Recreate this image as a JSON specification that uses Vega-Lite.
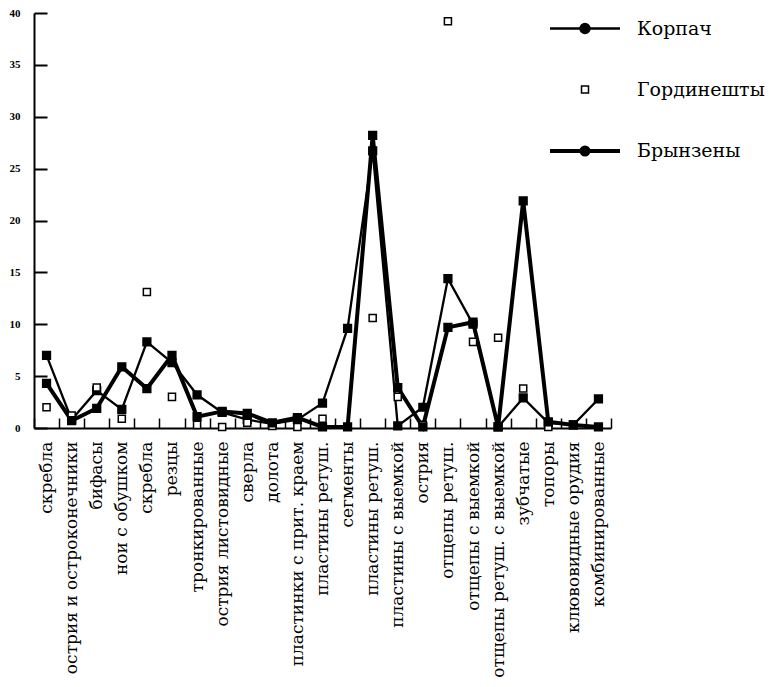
{
  "$schema": "https://vega.github.io/schema/vega-lite/v6.json",
  "width": 577,
  "height": 415,
  "autosize": "none",
  "padding": {"left": 34, "top": 13, "right": 158, "bottom": 259},
  "background": "white",
  "config": {
    "view": {"stroke": null},
    "axis": {"grid": false, "title": null, "domainColor": "black", "tickColor": "black", "labelColor": "black"}
  },
  "data": {
    "values": [
      {"cat": "01|скребла", "site": "Корпач", "v": 7.0},
      {"cat": "02|острия и остроконечники", "site": "Корпач", "v": 0.8},
      {"cat": "03|бифасы", "site": "Корпач", "v": 3.6},
      {"cat": "04|нои с обушком", "site": "Корпач", "v": 1.8},
      {"cat": "05|скребла", "site": "Корпач", "v": 8.3},
      {"cat": "06|резцы", "site": "Корпач", "v": 6.3},
      {"cat": "07|тронкированные", "site": "Корпач", "v": 3.2},
      {"cat": "08|острия листовидные", "site": "Корпач", "v": 1.5},
      {"cat": "09|сверла", "site": "Корпач", "v": 0.8},
      {"cat": "10|долота", "site": "Корпач", "v": 0.4},
      {"cat": "11|пластинки с прит. краем", "site": "Корпач", "v": 0.8},
      {"cat": "12|пластины ретуш.", "site": "Корпач", "v": 2.4},
      {"cat": "13|сегменты", "site": "Корпач", "v": 9.6},
      {"cat": "14|пластины ретуш.", "site": "Корпач", "v": 26.7},
      {"cat": "15|пластины с выемкой", "site": "Корпач", "v": 0.2},
      {"cat": "16|острия", "site": "Корпач", "v": 2.0},
      {"cat": "17|отщепы ретуш.", "site": "Корпач", "v": 14.4},
      {"cat": "18|отщепы с выемкой", "site": "Корпач", "v": 10.0},
      {"cat": "19|отщепы ретуш. с выемкой", "site": "Корпач", "v": 0.1},
      {"cat": "20|зубчатые", "site": "Корпач", "v": 2.9},
      {"cat": "21|топоры", "site": "Корпач", "v": 0.5},
      {"cat": "22|клювовидные орудия", "site": "Корпач", "v": 0.3},
      {"cat": "23|комбинированные", "site": "Корпач", "v": 2.8},
      {"cat": "01|скребла", "site": "Гординешты", "v": 2.0},
      {"cat": "02|острия и остроконечники", "site": "Гординешты", "v": 1.2},
      {"cat": "03|бифасы", "site": "Гординешты", "v": 3.9},
      {"cat": "04|нои с обушком", "site": "Гординешты", "v": 0.9},
      {"cat": "05|скребла", "site": "Гординешты", "v": 13.1},
      {"cat": "06|резцы", "site": "Гординешты", "v": 3.0},
      {"cat": "07|тронкированные", "site": "Гординешты", "v": 0.3},
      {"cat": "08|острия листовидные", "site": "Гординешты", "v": 0.1},
      {"cat": "09|сверла", "site": "Гординешты", "v": 0.5},
      {"cat": "10|долота", "site": "Гординешты", "v": 0.2},
      {"cat": "11|пластинки с прит. краем", "site": "Гординешты", "v": 0.1},
      {"cat": "12|пластины ретуш.", "site": "Гординешты", "v": 0.9},
      {"cat": "14|пластины ретуш.", "site": "Гординешты", "v": 10.6},
      {"cat": "15|пластины с выемкой", "site": "Гординешты", "v": 3.0},
      {"cat": "16|острия", "site": "Гординешты", "v": 0.3},
      {"cat": "17|отщепы ретуш.", "site": "Гординешты", "v": 39.2},
      {"cat": "18|отщепы с выемкой", "site": "Гординешты", "v": 8.3},
      {"cat": "19|отщепы ретуш. с выемкой", "site": "Гординешты", "v": 8.7},
      {"cat": "20|зубчатые", "site": "Гординешты", "v": 3.8},
      {"cat": "21|топоры", "site": "Гординешты", "v": 0.1},
      {"cat": "01|скребла", "site": "Брынзены", "v": 4.3},
      {"cat": "02|острия и остроконечники", "site": "Брынзены", "v": 0.7},
      {"cat": "03|бифасы", "site": "Брынзены", "v": 1.9},
      {"cat": "04|нои с обушком", "site": "Брынзены", "v": 5.9},
      {"cat": "05|скребла", "site": "Брынзены", "v": 3.8},
      {"cat": "06|резцы", "site": "Брынзены", "v": 7.0},
      {"cat": "07|тронкированные", "site": "Брынзены", "v": 1.1},
      {"cat": "08|острия листовидные", "site": "Брынзены", "v": 1.6},
      {"cat": "09|сверла", "site": "Брынзены", "v": 1.4},
      {"cat": "10|долота", "site": "Брынзены", "v": 0.5},
      {"cat": "11|пластинки с прит. краем", "site": "Брынзены", "v": 1.0},
      {"cat": "12|пластины ретуш.", "site": "Брынзены", "v": 0.1},
      {"cat": "13|сегменты", "site": "Брынзены", "v": 0.1},
      {"cat": "14|пластины ретуш.", "site": "Брынзены", "v": 28.2},
      {"cat": "15|пластины с выемкой", "site": "Брынзены", "v": 3.9},
      {"cat": "16|острия", "site": "Брынзены", "v": 0.1},
      {"cat": "17|отщепы ретуш.", "site": "Брынзены", "v": 9.7},
      {"cat": "18|отщепы с выемкой", "site": "Брынзены", "v": 10.2},
      {"cat": "19|отщепы ретуш. с выемкой", "site": "Брынзены", "v": 0.1},
      {"cat": "20|зубчатые", "site": "Брынзены", "v": 21.9},
      {"cat": "21|топоры", "site": "Брынзены", "v": 0.6},
      {"cat": "22|клювовидные орудия", "site": "Брынзены", "v": 0.3},
      {"cat": "23|комбинированные", "site": "Брынзены", "v": 0.1}
    ]
  },
  "encoding": {
    "x": {
      "field": "cat",
      "type": "ordinal",
      "bandPosition": 0.5,
      "scale": {"type": "band", "paddingInner": 0, "paddingOuter": 0},
      "axis": {
        "labelAngle": 270,
        "labelExpr": "split(datum.value, '|')[1]",
        "tickBand": "extent",
        "tickSize": -10,
        "tickWidth": 1.5,
        "domainWidth": 2,
        "labelFont": "DejaVu Serif",
        "labelFontSize": 17,
        "labelLimit": 400,
        "labelOverlap": false,
        "labelPadding": 23
      }
    },
    "y": {
      "field": "v",
      "type": "quantitative",
      "scale": {"domain": [0, 40], "nice": false},
      "axis": {
        "values": [0, 5, 10, 15, 20, 25, 30, 35, 40],
        "tickSize": -13,
        "tickWidth": 2,
        "domainWidth": 2,
        "labelFont": "Liberation Serif",
        "labelFontWeight": "bold",
        "labelFontSize": 11,
        "labelPadding": 27
      }
    }
  },
  "layer": [
    {
      "transform": [{"filter": "datum.site !== 'Гординешты'"}],
      "mark": {"type": "line", "color": "black"},
      "encoding": {
        "detail": {"field": "site", "type": "nominal"},
        "strokeWidth": {
          "condition": {"test": "datum.site === 'Брынзены'", "value": 4},
          "value": 2.3
        }
      }
    },
    {
      "mark": {"type": "point", "shape": "square", "filled": true, "stroke": "black", "strokeWidth": 1.5, "opacity": 1},
      "encoding": {
        "fill": {
          "condition": {"test": "datum.site === 'Гординешты'", "value": "white"},
          "value": "black"
        },
        "size": {
          "condition": {"test": "datum.site === 'Гординешты'", "value": 50},
          "value": 60
        }
      }
    },
    {
      "transform": [{"filter": "false"}],
      "mark": {"type": "point", "filled": true, "stroke": "black", "opacity": 1},
      "encoding": {
        "shape": {
          "field": "site",
          "type": "nominal",
          "scale": {
            "domain": ["Корпач", "Гординешты", "Брынзены"],
            "range": ["M-1,0H1M-0.13,0a0.13,0.13 0 1,0 0.26,0a0.13,0.13 0 1,0 -0.26,0", "M-0.1,-0.1H0.1V0.1H-0.1Z", "M-1,0H1M-0.1,0a0.1,0.1 0 1,0 0.2,0a0.1,0.1 0 1,0 -0.2,0"]
          },
          "legend": {
            "title": null,
            "orient": "none",
            "legendX": 514,
            "legendY": -21,
            "symbolSize": 4900,
            "labelFont": "DejaVu Serif",
            "labelFontSize": 19,
            "labelColor": "black",
            "labelOffset": 15,
            "rowPadding": 14.5
          }
        },
        "strokeWidth": {
          "field": "site",
          "type": "nominal",
          "scale": {"type": "ordinal", "domain": ["Корпач", "Гординешты", "Брынзены"], "range": [2.3, 1.5, 4]},
          "legend": {
            "title": null,
            "orient": "none",
            "legendX": 514,
            "legendY": -21,
            "symbolSize": 4900,
            "labelFont": "DejaVu Serif",
            "labelFontSize": 19,
            "labelColor": "black",
            "labelOffset": 15,
            "rowPadding": 14.5
          }
        },
        "fill": {
          "field": "site",
          "type": "nominal",
          "scale": {"domain": ["Корпач", "Гординешты", "Брынзены"], "range": ["black", "white", "black"]},
          "legend": {
            "title": null,
            "orient": "none",
            "legendX": 514,
            "legendY": -21,
            "symbolSize": 4900,
            "labelFont": "DejaVu Serif",
            "labelFontSize": 19,
            "labelColor": "black",
            "labelOffset": 15,
            "rowPadding": 14.5
          }
        }
      }
    }
  ]
}
